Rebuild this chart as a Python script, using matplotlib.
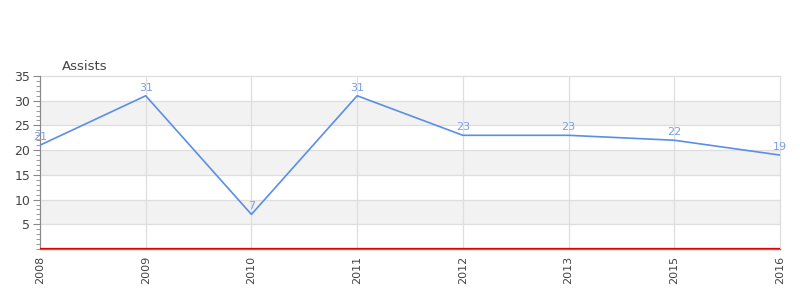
import matplotlib
matplotlib.use("Agg")
import matplotlib.pyplot as plt
from matplotlib.ticker import MultipleLocator

years = ["2008", "2009", "2010", "2011", "2012", "2013", "2015", "2016"]
assists = [21, 31, 7, 31, 23, 23, 22, 19]

fig = plt.figure(figsize=(8, 3), dpi=100)
ax = fig.add_axes([0.05, 0.17, 0.925, 0.5767])
x = list(range(len(years)))

ymin, ymax = 0, 35
for lo in range(0, 35, 5):
    if (lo // 5) % 2 == 1:
        ax.axhspan(lo, lo + 5, color="#f2f2f2", zorder=0, lw=0)
for v in range(5, 40, 5):
    ax.axhline(v, color="#dedede", lw=0.9, zorder=1, clip_on=False)
for xi in x:
    ax.axvline(xi, color="#dedede", lw=0.9, zorder=1, clip_on=False)

ax.plot(x, assists, color="#5b8ee6", lw=1.2, zorder=3)
for xi, v in zip(x, assists):
    ax.text(xi, v + 0.6, str(v), ha="center", va="bottom", color="#7a9fe6", fontsize=8, zorder=4)
ax.axhline(0.25, color="#e00000", lw=0.9, zorder=4)

ax.set_xlim(0, len(years) - 1)
ax.set_ylim(ymin, ymax)
ax.set_xticks(x)
ax.set_xticklabels(years, rotation=90, fontsize=8, color="#444444")
ax.set_yticks([5, 10, 15, 20, 25, 30, 35])
ax.yaxis.set_minor_locator(MultipleLocator(1))
ax.tick_params(axis="y", which="major", length=5, color="#888888", labelsize=9, labelcolor="#444444", pad=2)
ax.tick_params(axis="y", which="minor", length=3, color="#888888")
ax.tick_params(axis="x", length=0, pad=5)
for s in ["top", "right"]:
    ax.spines[s].set_visible(False)
ax.spines["left"].set_color("#888888")
ax.spines["bottom"].set_color("#777777")
ax.spines["bottom"].set_linewidth(1.0)

fig.text(62 / 800, 1 - 66 / 300, "Assists", fontsize=9.5, color="#444444", va="center", ha="left")
fig.savefig("out.png", dpi=100)
